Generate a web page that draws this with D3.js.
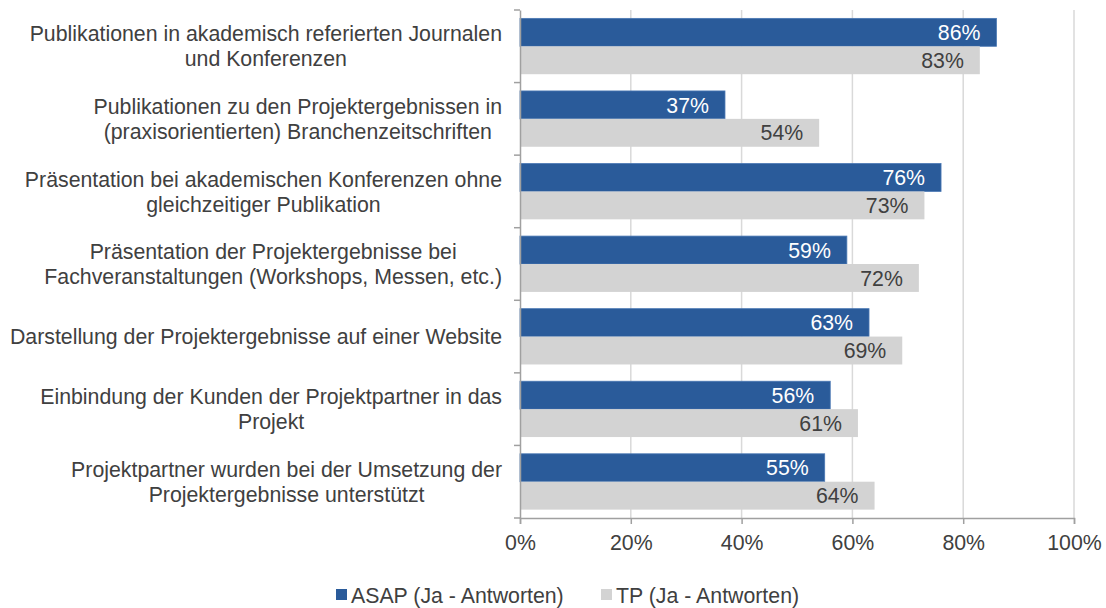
<!DOCTYPE html>
<html>
<head>
  <meta charset="UTF-8" />
  <script src="https://d3js.org/d3.v7.min.js"></script>
  <style>
    body { margin: 0; background: #fff; }
    text { font-family: "Liberation Sans", Arial, sans-serif; }
  </style>
</head>
<body>
  <div id="chart"></div>
  <script>
    // categories (each entry = lines of the label)
    const categories = [
      ["Publikationen in akademisch referierten Journalen", "und Konferenzen"],
      ["Publikationen zu den Projektergebnissen in", "(praxisorientierten) Branchenzeitschriften"],
      ["Präsentation bei akademischen Konferenzen ohne", "gleichzeitiger Publikation"],
      ["Präsentation der Projektergebnisse bei", "Fachveranstaltungen (Workshops, Messen, etc.)"],
      ["Darstellung der Projektergebnisse auf einer Website"],
      ["Einbindung der Kunden der Projektpartner in das", "Projekt"],
      ["Projektpartner wurden bei der Umsetzung der", "Projektergebnisse unterstützt"]
    ];
    const seriesNames = ["ASAP (Ja - Antworten)", "TP (Ja - Antworten)"];
    const asapValues = [86, 37, 76, 59, 63, 56, 55];
    const tpValues = [83, 54, 73, 72, 69, 61, 64];
    const xTicks = [0, 20, 40, 60, 80, 100];

    const colors = ["#2a5b9a", "#d3d3d3"];
    const labelColors = ["#ffffff", "#404040"];
    const fontSize = 21.3;

    const width = 1106, height = 608;
    const margin = { top: 10, right: 32, bottom: 90, left: 520 };

    const svg = d3.select("#chart").append("svg")
      .attr("width", width)
      .attr("height", height);

    const keys = categories.map((c, i) => "c" + i);

    const x = d3.scaleLinear()
      .domain([0, 100])
      .range([margin.left, width - margin.right]);

    const y = d3.scaleBand()
      .domain(keys)
      .range([margin.top, height - margin.bottom])
      .padding(0);

    const ySub = d3.scaleBand()
      .domain([0, 1])
      .range([0, y.bandwidth()])
      .paddingInner(0)
      .paddingOuter(0.3);

    // gridlines
    svg.append("g")
      .selectAll("line")
      .data(xTicks.slice(1))
      .join("line")
      .attr("x1", d => x(d))
      .attr("x2", d => x(d))
      .attr("y1", margin.top)
      .attr("y2", height - margin.bottom)
      .attr("stroke", "#d9d9d9")
      .attr("stroke-width", 1.5);

    // bars
    const rows = keys.map((k, i) => ({ key: k, vals: [asapValues[i], tpValues[i]] }));
    const group = svg.append("g")
      .selectAll("g")
      .data(rows)
      .join("g")
      .attr("transform", d => "translate(0," + y(d.key) + ")");

    group.selectAll("rect")
      .data(d => d.vals.map((v, s) => ({ v, s })))
      .join("rect")
      .attr("x", x(0))
      .attr("y", d => ySub(d.s))
      .attr("width", d => x(d.v) - x(0))
      .attr("height", ySub.bandwidth())
      .attr("fill", d => colors[d.s])
      .attr("stroke", d => d.s === 0 ? "#4a78b4" : "none")
      .attr("stroke-width", 0.8);

    group.selectAll("text")
      .data(d => d.vals.map((v, s) => ({ v, s })))
      .join("text")
      .attr("x", d => x(d.v) - 16)
      .attr("y", d => ySub(d.s) + ySub.bandwidth() / 2)
      .attr("dy", "0.36em")
      .attr("text-anchor", "end")
      .attr("font-size", fontSize)
      .attr("fill", d => labelColors[d.s])
      .text(d => d.v + "%");

    // left axis
    const yAxis = d3.axisLeft(y).tickSize(0).tickFormat("");
    const yg = svg.append("g")
      .attr("transform", "translate(" + x(0) + ",0)")
      .call(yAxis);
    yg.select(".domain").attr("stroke", "#a0a0a0").attr("stroke-width", 1.5);
    // boundary ticks
    const edges = keys.map(k => y(k)).concat([y(keys[keys.length - 1]) + y.bandwidth()]);
    yg.selectAll(".edge")
      .data(edges)
      .join("line")
      .attr("class", "edge")
      .attr("x1", -6).attr("x2", 0)
      .attr("y1", d => d).attr("y2", d => d)
      .attr("stroke", "#a0a0a0")
      .attr("stroke-width", 1.5);

    // category labels
    const labelRight = 502;
    const lineH = 25;
    categories.forEach((lines, i) => {
      const g = svg.append("g").attr("fill", "#404040").attr("font-size", fontSize);
      const texts = lines.map(l => g.append("text").text(l).attr("text-anchor", "middle"));
      const maxW = d3.max(texts, t => t.node().getComputedTextLength());
      const cx = labelRight - maxW / 2;
      const cy = y(keys[i]) + y.bandwidth() / 2;
      texts.forEach((t, j) => {
        t.attr("x", cx)
          .attr("y", cy + (j - (lines.length - 1) / 2) * lineH)
          .attr("dy", "0.36em");
      });
    });

    // bottom axis
    const xAxis = d3.axisBottom(x)
      .tickValues(xTicks)
      .tickSize(6)
      .tickPadding(11)
      .tickFormat(d => d + "%");
    const xg = svg.append("g")
      .attr("transform", "translate(0," + (height - margin.bottom) + ")")
      .call(xAxis);
    xg.select(".domain").attr("stroke", "#a0a0a0").attr("stroke-width", 1.5);
    xg.selectAll(".tick line").attr("stroke", "#a0a0a0").attr("stroke-width", 1.5);
    xg.selectAll(".tick text")
      .attr("font-size", fontSize)
      .attr("fill", "#404040")
      .attr("font-family", "Liberation Sans, Arial, sans-serif");

    // legend
    const legendPos = [336, 601];
    const lg = svg.append("g");
    seriesNames.forEach((name, i) => {
      lg.append("rect")
        .attr("x", legendPos[i])
        .attr("y", 589)
        .attr("width", 11)
        .attr("height", 11)
        .attr("fill", colors[i]);
      lg.append("text")
        .attr("x", legendPos[i] + 15)
        .attr("y", 595)
        .attr("dy", "0.36em")
        .attr("font-size", fontSize)
        .attr("fill", "#404040")
        .text(name);
    });
  </script>
</body>
</html>
